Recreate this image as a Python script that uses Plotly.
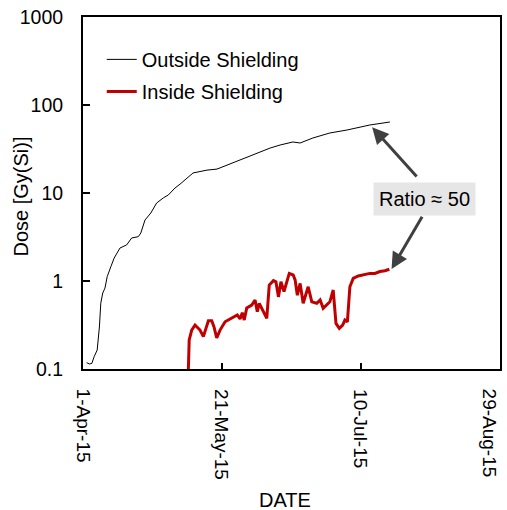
import numpy as np
import pandas as pd
import plotly.graph_objects as go

base_date = pd.Timestamp("2015-04-01")

# Days after 1-Apr-15 and dose values [Gy(Si)]
outside_day = [1.3, 2.3, 3.2, 4.0, 5.1, 5.9, 6.4, 7.1, 7.9, 8.7, 10.0, 11.2, 13.3, 15.7,
               17.5, 19.9, 20.8, 22.3, 24.4, 26.5, 28.9, 30.7, 33.1, 34.9, 39.6, 44.6,
               48.2, 51.8, 56.5, 61.2, 67.3, 70.9, 75.5, 78.1, 82.7, 88.8, 95.0, 103.2, 110.4]
outside_dose = [0.118, 0.114, 0.116, 0.138, 0.164, 0.30, 0.56, 0.73, 0.83, 1.12, 1.45, 1.82,
                2.37, 2.57, 3.08, 3.19, 3.51, 4.93, 5.93, 7.7, 8.8, 9.5, 11.4, 12.6, 16.9,
                18.2, 18.7, 20.8, 23.7, 27.0, 32.4, 35.1, 38.0, 37.0, 42.2, 48.1, 52.0, 59.3, 64.1]

inside_day = [37.9, 38.2, 39.1, 40.3, 42.1, 43.3, 45.1, 46.3, 47.1, 48.1, 49.3, 51.1, 52.9,
              54.7, 55.5, 56.5, 57.3, 58.0, 58.9, 60.7, 61.9, 62.7, 63.4, 64.9, 66.1, 67.0,
              68.5, 69.4, 70.3, 71.2, 72.3, 74.2, 75.6, 76.3, 77.1, 78.1, 79.2, 81.0, 82.3,
              84.1, 85.3, 86.4, 88.8, 90.0, 91.0, 92.2, 93.4, 94.2, 95.1, 96.0, 97.2, 99.0,
              100.8, 103.2, 105.0, 106.8, 108.6, 110.2]
inside_dose = [0.1, 0.214, 0.277, 0.316, 0.277, 0.233, 0.354, 0.354, 0.303, 0.225, 0.277,
               0.344, 0.370, 0.393, 0.411, 0.370, 0.436, 0.360, 0.493, 0.533, 0.608, 0.448,
               0.558, 0.448, 0.377, 0.90, 1.01, 0.98, 0.66, 0.98, 0.76, 1.22, 1.17, 1.03,
               0.69, 0.94, 0.558, 0.86, 0.58, 0.558, 0.608, 0.49, 0.58, 0.79, 0.33, 0.29,
               0.316, 0.36, 0.344, 0.86, 1.07, 1.14, 1.17, 1.22, 1.22, 1.28, 1.31, 1.36]

x_tick_dates = ["2015-04-01", "2015-05-21", "2015-07-10", "2015-08-29"]
x_tick_labels = ["1-Apr-15", "21-May-15", "10-Jul-15", "29-Aug-15"]
y_tick_vals = [0.1, 1, 10, 100, 1000]
y_tick_text = ["0.1", "1", "10", "100", "1000"]

ratio_label = "Ratio ≈ 50"
ratio_pos = (122.7, 8.55)
arrow_outside = {"head": (104.0, 56.0), "tail": (120.5, 14.8)}
arrow_inside = {"head": (111.0, 1.37), "tail": (122.3, 5.6)}


def to_dates(days):
    return [base_date + pd.Timedelta(days=float(d)) for d in days]


def d1(day):
    return base_date + pd.Timedelta(days=float(day))


FONT = "Liberation Sans, Arial, sans-serif"

fig = go.Figure()
fig.add_trace(go.Scatter(x=to_dates(outside_day), y=outside_dose, mode="lines",
                         name="Outside Shielding", line=dict(color="black", width=1),
                         legendgroup="a"))
fig.add_trace(go.Scatter(x=to_dates(inside_day), y=inside_dose, mode="lines",
                         name="Inside Shielding", line=dict(color="#c00000", width=3),
                         legendgroup="b"))

annotations = []
for arr in (arrow_outside, arrow_inside):
    annotations.append(dict(
        x=d1(arr["head"][0]), y=np.log10(arr["head"][1]), xref="x", yref="y",
        ax=d1(arr["tail"][0]), ay=np.log10(arr["tail"][1]), axref="x", ayref="y",
        text="", showarrow=True, arrowhead=2, arrowsize=1.1, arrowwidth=3,
        arrowcolor="#404040", standoff=0, startstandoff=0))
annotations.append(dict(
    x=d1(ratio_pos[0]), y=np.log10(ratio_pos[1]), xref="x", yref="y",
    text=ratio_label, showarrow=False, bgcolor="#e6e6e6", borderpad=5,
    font=dict(size=20, color="black", family=FONT)))

# x tick labels (rotated), placed at the tick dates
n_ticks = len(x_tick_dates)
for i, (d, lab) in enumerate(zip(x_tick_dates, x_tick_labels)):
    last = i == n_ticks - 1
    annotations.append(dict(
        x=d, y=-0.05, xref="x", yref="paper", text=lab, textangle=90,
        showarrow=False, yanchor="top", xanchor="right" if last else "center",
        xshift=2 if last else 0,
        font=dict(size=19, color="black", family=FONT)))

# axis titles
annotations.append(dict(
    x=-0.151, y=0.49, xref="paper", yref="paper", text="Dose [Gy(Si)]",
    textangle=-90, showarrow=False, xanchor="center", yanchor="middle",
    font=dict(size=20, color="black", family=FONT)))
annotations.append(dict(
    x=0.485, y=-0.371, xref="paper", yref="paper", text="DATE",
    showarrow=False, xanchor="center", yanchor="middle",
    font=dict(size=20, color="black", family=FONT)))

fig.update_layout(
    width=507, height=510,
    margin=dict(l=83, r=7, t=17, b=141),
    paper_bgcolor="white", plot_bgcolor="white",
    font=dict(family=FONT, color="black"),
    showlegend=True,
    legend=dict(x=0.045, y=0.935, xanchor="left", yanchor="top",
                font=dict(size=20, color="black", family=FONT),
                bgcolor="rgba(0,0,0,0)", tracegroupgap=3, itemwidth=30,
                traceorder="grouped"),
    annotations=annotations,
    xaxis=dict(
        range=["2015-04-01", "2015-08-29"], tickvals=x_tick_dates,
        showticklabels=False, automargin=False,
        ticks="inside", ticklen=6, tickwidth=2, tickcolor="black",
        showline=True, linewidth=2, linecolor="black", mirror=True, showgrid=False,
        zeroline=False),
    yaxis=dict(
        type="log", range=[-1, 3], tickvals=y_tick_vals, ticktext=y_tick_text,
        automargin=False,
        ticks="inside", ticklen=7, tickwidth=2, tickcolor="black",
        showline=True, linewidth=2, linecolor="black", mirror=True, showgrid=False,
        zeroline=False, tickfont=dict(size=19.5, color="black"), ticklabelstandoff=14),
)

fig.write_html("out.html")
